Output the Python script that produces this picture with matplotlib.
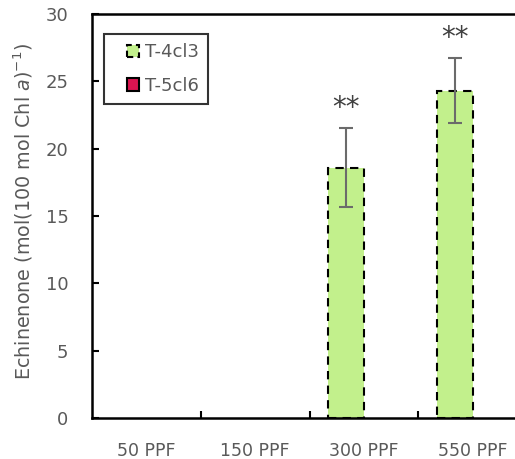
import matplotlib.pyplot as plt
from matplotlib.patches import Patch, Rectangle
from matplotlib.legend_handler import HandlerPatch
import numpy as np

categories = ["50 PPF", "150 PPF", "300 PPF", "550 PPF"]
t4_vals = [0, 0, 18.6, 24.3]
t4_err = [0, 0, 2.9, 2.4]
t5_vals = [0, 0, 0, 0]
stars = ["", "", "**", "**"]

grey = "#595959"
green = "#C2F08C"
red = "#DC1450"
plt.rcParams['font.family'] = ['DejaVu Sans']


def square_right(legend, orig_handle, xdescent, ydescent, width, height, fontsize):
    # small square sitting at the right end of the handle box
    s = height * 1.0
    return Rectangle((width - s - xdescent, -ydescent + (height - s) / 2), s, s)


fig = plt.figure(figsize=(5.15, 4.59), dpi=100)
ax = fig.add_axes([92/515, 41/459, 435/515, 404/459])

x = np.arange(len(categories))
w = 0.33
b1 = ax.bar(x - w/2, t4_vals, w, color=green, edgecolor="black",
            linestyle=(0, (4, 3)), linewidth=1.5)
b2 = ax.bar(x + w/2, t5_vals, w, color=red, edgecolor="black", linewidth=1.5)
# zero-height bars leave no visible mark
for p in list(b1) + list(b2):
    if p.get_height() == 0:
        p.set_visible(False)

for i in range(len(categories)):
    if t4_vals[i] > 0:
        ax.errorbar(x[i] - w/2, t4_vals[i], yerr=t4_err[i], color="#6b6b6b",
                    capsize=5, elinewidth=1.5, capthick=1.5)
        ax.text(x[i] - w/2, t4_vals[i] + t4_err[i] + 0.5, stars[i],
                ha="center", va="bottom", fontsize=20, color="#404040")

ax.set_xlim(-0.5, 3.5)
ax.set_ylim(0, 30)
ax.set_yticks(range(0, 31, 5))
ax.set_xticks(x)
ax.set_xticklabels(categories)
ax.set_xticks([0.5, 1.5, 2.5], minor=True)
ax.tick_params(axis="x", which="major", length=0, pad=17, labelsize=12.5, labelcolor=grey)
ax.tick_params(axis="x", which="minor", direction="in", length=5, width=1.5)
ax.tick_params(axis="y", direction="in", length=5, width=1.5, pad=17,
               labelsize=13, labelcolor=grey)
for s in ax.spines.values():
    s.set_linewidth(1.8)

ax.set_ylabel("Echinenone (mol(100 mol Chl $\\mathit{a}$)$^{-1}$)",
              fontsize=13.8, color=grey)
ax.yaxis.set_label_coords(-0.13, 0.51)

handles = [Patch(facecolor=green, edgecolor="black", linestyle=(0, (3, 2)), linewidth=1.5),
           Patch(facecolor=red, edgecolor="black", linewidth=1.5)]
leg = ax.legend(handles, ["T-4cl3", "T-5cl6"], loc="upper left",
                bbox_to_anchor=(0.028, 0.95), borderaxespad=0, fancybox=False,
                edgecolor="black", fontsize=13, handlelength=1.45, handleheight=0.7,
                handletextpad=0.3, labelspacing=0.85, borderpad=0.5,
                handler_map={Patch: HandlerPatch(patch_func=square_right)})
leg.get_frame().set_linewidth(1.5)
for t in leg.get_texts():
    t.set_color(grey)

fig.savefig("out.png", dpi=100)
